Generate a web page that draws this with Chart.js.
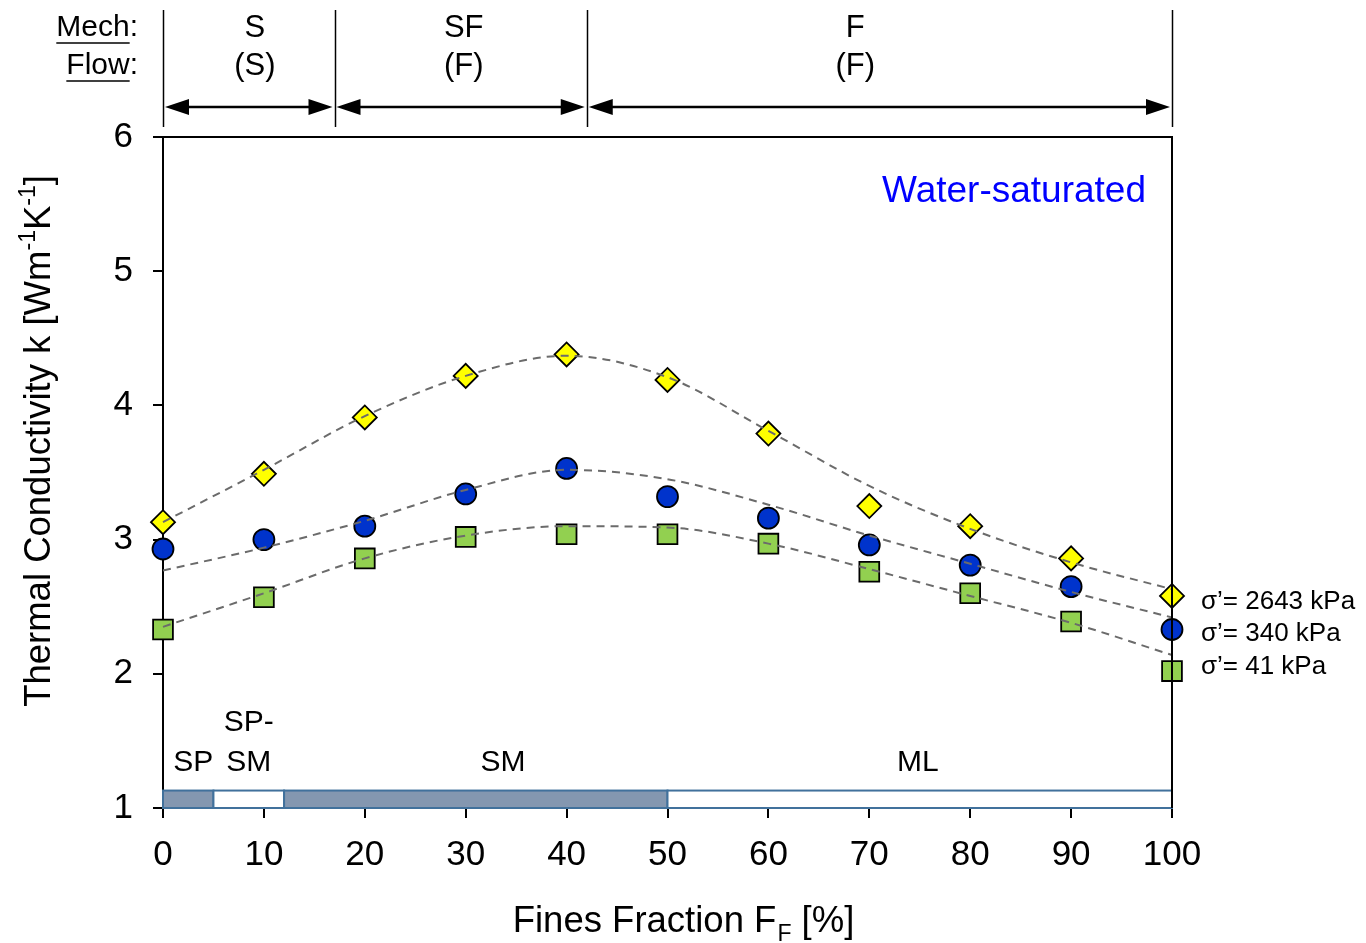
<!DOCTYPE html>
<html><head><meta charset="utf-8">
<script src="https://cdn.jsdelivr.net/npm/chart.js@4.4.1/dist/chart.umd.min.js"></script>
<style>html,body{margin:0;padding:0;background:#fff}#wrap{width:1366px;height:943px;position:relative}</style>
</head><body><div id="wrap"><canvas id="c" width="1366" height="943"></canvas></div>
<script>
// ---- data ----
const finesFraction = [0,10,20,30,40,50,60,70,80,90,100];
const k2643 = [3.13,3.49,3.91,4.22,4.38,4.19,3.79,3.25,3.10,2.86,2.58];
const k340  = [2.93,3.00,3.10,3.34,3.53,3.32,3.16,2.96,2.81,2.65,2.33];
const k41   = [2.33,2.57,2.86,3.02,3.04,3.04,2.97,2.76,2.60,2.39,2.02];
const fit2643 = [3.13,3.52,3.92,4.22,4.37,4.21,3.81,3.40,3.08,2.83,2.63];
const fit340  = [2.77,2.94,3.14,3.37,3.52,3.45,3.26,3.03,2.82,2.61,2.42];
const fit41   = [2.35,2.60,2.86,3.03,3.10,3.09,2.97,2.78,2.58,2.38,2.14];
const seriesLabels = ['σ’= 2643 kPa','σ’= 340 kPa','σ’= 41 kPa'];
const xTicks = [0,10,20,30,40,50,60,70,80,90,100];
const yTicks = [1,2,3,4,5,6];
const zoneBounds = [0,17,42,100];
const zoneMech = ['S','SF','F'];
const zoneFlow = ['(S)','(F)','(F)'];
const zoneLabelX = [9.1,29.8,68.6];
const uscsBounds = [0,5,12,50,100];
const uscsShaded = [true,false,true,false];
const uscsLabels = ['SP','SP-\nSM','SM','ML'];
const uscsLabelX = [3.0,8.5,33.7,74.8];
const uscsTop = 1.13;
const annotation = 'Water-saturated';

const pts = (xs, ys) => xs.map((x,i)=>({x, y: ys[i]}));
const FONT = 'Arial, "Liberation Sans", sans-serif';

const markerBase = {type:'scatter', showLine:false, borderColor:'#000', borderWidth:1.8, clip:false, order:2};
const fitBase = {type:'line', borderColor:'#6b6b6b', borderWidth:2, borderDash:[8,6], pointRadius:0, fill:false, cubicInterpolationMode:'monotone', clip:false, order:1};

const overlay = {
  id:'overlay',
  beforeDatasetsDraw(chart){
    const {ctx, scales:{x,y}} = chart;
    ctx.save();
    const yT = y.getPixelForValue(uscsTop), yB = y.getPixelForValue(1);
    for(let i=0;i<uscsShaded.length;i++){
      const x0 = x.getPixelForValue(uscsBounds[i]), x1 = x.getPixelForValue(uscsBounds[i+1]);
      ctx.fillStyle = uscsShaded[i] ? '#8497B0' : '#ffffff';
      ctx.fillRect(x0, yT, x1-x0, yB-yT);
      ctx.strokeStyle = '#41719C'; ctx.lineWidth = 2;
      ctx.strokeRect(x0, yT, x1-x0, yB-yT);
    }
    ctx.restore();
  },
  afterDraw(chart){
    const {ctx, chartArea:ca, scales:{x,y}} = chart;
    ctx.save();
    ctx.strokeStyle='#000'; ctx.lineWidth=2;
    ctx.beginPath(); ctx.moveTo(ca.left, ca.top); ctx.lineTo(ca.right, ca.top); ctx.lineTo(ca.right, ca.bottom); ctx.stroke();

    // USCS labels
    ctx.fillStyle='#000'; ctx.font = '30px '+FONT; ctx.textAlign='center'; ctx.textBaseline='middle';
    uscsLabels.forEach((t,i)=>{
      const px = x.getPixelForValue(uscsLabelX[i]);
      const lines = t.split('\n');
      const base = 763;
      lines.forEach((ln,j)=>{ ctx.fillText(ln, px, base - (lines.length-1-j)*40); });
    });

    ctx.fillStyle='#0000FF'; ctx.font='37px '+FONT; ctx.textAlign='right';
    ctx.fillText(annotation, 1146, 192);

    ctx.fillStyle='#000'; ctx.font='26px '+FONT; ctx.textAlign='left';
    [602,634,667].forEach((py,i)=>ctx.fillText(seriesLabels[i], 1201, py));

    // top zones
    ctx.strokeStyle='#000'; ctx.lineWidth=1.5;
    zoneBounds.forEach(b=>{
      const px = Math.round(x.getPixelForValue(b))+0.5;
      ctx.beginPath(); ctx.moveTo(px, 10); ctx.lineTo(px, 127); ctx.stroke();
    });
    ctx.font='31px '+FONT; ctx.textAlign='center';
    for(let i=0;i<zoneMech.length;i++){
      const x0 = x.getPixelForValue(zoneBounds[i]), x1 = x.getPixelForValue(zoneBounds[i+1]);
      const cx = x.getPixelForValue(zoneLabelX[i]);
      ctx.fillText(zoneMech[i], cx, 28);
      ctx.fillText(zoneFlow[i], cx, 66);
      const ay = 107, ah = 24, aw = 8;
      ctx.lineWidth=2.5;
      ctx.beginPath(); ctx.moveTo(x0+ah, ay); ctx.lineTo(x1-ah, ay); ctx.stroke();
      ctx.beginPath(); ctx.moveTo(x0+2, ay); ctx.lineTo(x0+2+ah, ay-aw); ctx.lineTo(x0+2+ah, ay+aw); ctx.closePath(); ctx.fill();
      ctx.beginPath(); ctx.moveTo(x1-2, ay); ctx.lineTo(x1-2-ah, ay-aw); ctx.lineTo(x1-2-ah, ay+aw); ctx.closePath(); ctx.fill();
    }
    ctx.textAlign='left';
    const drawUnder = (word, yy) => {
      const w1 = ctx.measureText(word).width, w2 = ctx.measureText(':').width;
      const sx = 138 - w1 - w2;
      ctx.fillText(word+':', sx, yy);
      ctx.lineWidth=1.5;
      ctx.beginPath(); ctx.moveTo(sx, yy+15); ctx.lineTo(sx+w1, yy+15); ctx.stroke();
    };
    ctx.font='30px '+FONT;
    drawUnder('Mech', 28);
    drawUnder('Flow', 66);

    // X title
    ctx.textBaseline='alphabetic';
    const p1='Fines Fraction F', p3=' [%]';
    ctx.font='36.5px '+FONT; const w1=ctx.measureText(p1).width, w3=ctx.measureText(p3).width;
    ctx.font='23px '+FONT; const w2=ctx.measureText('F').width;
    let sx = 683 - (w1+w2+w3)/2;
    ctx.font='36.5px '+FONT; ctx.fillText(p1, sx, 932);
    ctx.font='23px '+FONT; ctx.fillText('F', sx+w1+1, 941);
    ctx.font='36.5px '+FONT; ctx.fillText(p3, sx+w1+w2+1, 932);

    // Y title rotated
    ctx.save();
    ctx.translate(50, 441); ctx.rotate(-Math.PI/2);
    const parts=[['Thermal Conductivity k [Wm',0],['-1',1],['K',0],['-1',1],[']',0]];
    let tw=0;
    parts.forEach(([t,s])=>{ ctx.font=(s?'23px ':'36.5px ')+FONT; tw+=ctx.measureText(t).width; });
    let cx=-tw/2;
    parts.forEach(([t,s])=>{ ctx.font=(s?'23px ':'36.5px ')+FONT; ctx.fillText(t, cx, s? -15:0); cx+=ctx.measureText(t).width; });
    ctx.restore();

    ctx.restore();
  }
};

new Chart(document.getElementById('c'), {
  data:{
    datasets:[
      {...fitBase, data: pts(finesFraction, fit2643)},
      {...fitBase, data: pts(finesFraction, fit340)},
      {...fitBase, data: pts(finesFraction, fit41)},
      {...markerBase, label:seriesLabels[0], data: pts(finesFraction,k2643), pointStyle:'rectRot', pointRadius:12, pointHoverRadius:12, backgroundColor:'#FFFF00'},
      {...markerBase, label:seriesLabels[1], data: pts(finesFraction,k340), pointStyle:'circle', pointRadius:10.5, pointHoverRadius:10.5, backgroundColor:'#0033CC'},
      {...markerBase, label:seriesLabels[2], data: pts(finesFraction,k41), pointStyle:'rect', pointRadius:14, pointHoverRadius:14, backgroundColor:'#92D050'}
    ]
  },
  options:{
    responsive:false, animation:false, devicePixelRatio:1,
    layout:{padding:{left:0, right:194, top:137, bottom:0}},
    plugins:{legend:{display:false}, tooltip:{enabled:false}},
    scales:{
      x:{type:'linear', min:0, max:100,
        afterBuildTicks(s){ s.ticks = xTicks.map(v=>({value:v})); },
        afterFit(s){ s.height = 135; },
        grid:{drawOnChartArea:false, drawTicks:true, tickLength:10, color:'#000', lineWidth:2},
        border:{color:'#000', width:2},
        ticks:{font:{size:35, family:FONT}, color:'#000', padding:16, maxRotation:0}
      },
      y:{type:'linear', min:1, max:6,
        afterBuildTicks(s){ s.ticks = yTicks.map(v=>({value:v})); },
        afterFit(s){ s.width = 163; },
        grid:{drawOnChartArea:false, drawTicks:true, tickLength:10, color:'#000', lineWidth:2},
        border:{color:'#000', width:2},
        ticks:{font:{size:35, family:FONT}, color:'#000', padding:20}
      }
    }
  },
  plugins:[overlay]
});
</script></body></html>
